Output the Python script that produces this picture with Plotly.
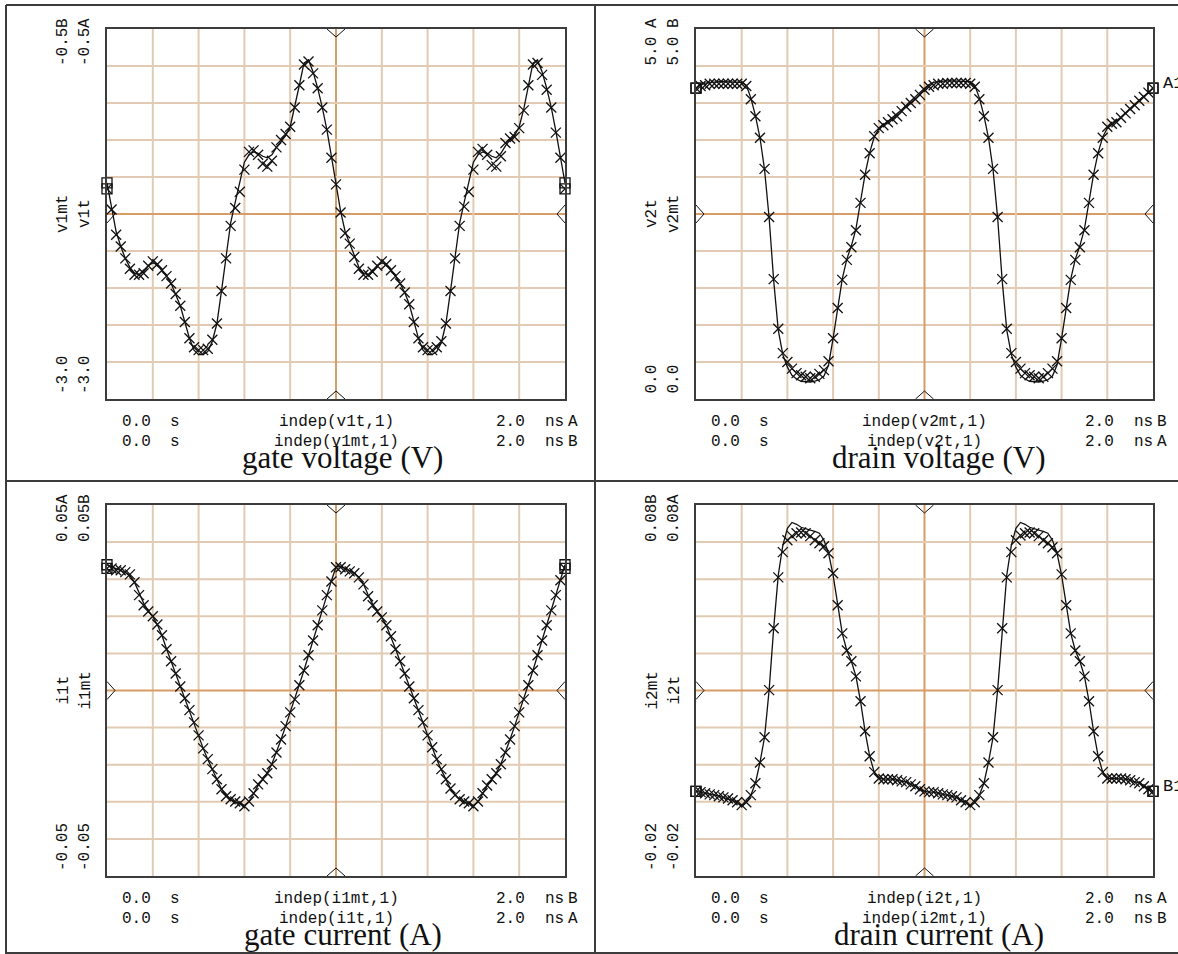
import plotly.graph_objects as go

W, H = 1178, 954

time_ns = [0.00, 0.02, 0.04, 0.06, 0.08, 0.10, 0.12, 0.14, 0.16, 0.18,
           0.20, 0.22, 0.24, 0.26, 0.28, 0.30, 0.32, 0.34, 0.36, 0.38,
           0.40, 0.42, 0.44, 0.46, 0.48, 0.50, 0.52, 0.54, 0.56, 0.58,
           0.60, 0.62, 0.64, 0.66, 0.68, 0.70, 0.72, 0.74, 0.76, 0.78,
           0.80, 0.82, 0.84, 0.86, 0.88, 0.90, 0.92, 0.94, 0.96, 0.98,
           1.00, 1.02, 1.04, 1.06, 1.08, 1.10, 1.12, 1.14, 1.16, 1.18,
           1.20, 1.22, 1.24, 1.26, 1.28, 1.30, 1.32, 1.34, 1.36, 1.38,
           1.40, 1.42, 1.44, 1.46, 1.48, 1.50, 1.52, 1.54, 1.56, 1.58,
           1.60, 1.62, 1.64, 1.66, 1.68, 1.70, 1.72, 1.74, 1.76, 1.78,
           1.80, 1.82, 1.84, 1.86, 1.88, 1.90, 1.92, 1.94, 1.96, 1.98,
           2.00]

# gate voltage (V)
v1t = [-1.58, -1.72, -1.89, -1.97, -2.05, -2.12, -2.16, -2.16, -2.15, -2.10,
       -2.07, -2.09, -2.13, -2.17, -2.22, -2.29, -2.37, -2.48, -2.59, -2.65,
       -2.67, -2.67, -2.66, -2.60, -2.49, -2.27, -2.05, -1.83, -1.71, -1.60,
       -1.45, -1.33, -1.32, -1.35, -1.41, -1.43, -1.39, -1.30, -1.25, -1.21,
       -1.16, -1.03, -0.88, -0.74, -0.72, -0.80, -0.90, -1.03, -1.18, -1.37,
       -1.55, -1.74, -1.88, -1.95, -2.04, -2.12, -2.16, -2.16, -2.14, -2.10,
       -2.07, -2.09, -2.13, -2.17, -2.22, -2.28, -2.36, -2.48, -2.59, -2.65,
       -2.67, -2.67, -2.65, -2.61, -2.49, -2.27, -2.05, -1.83, -1.70, -1.60,
       -1.45, -1.33, -1.31, -1.35, -1.42, -1.43, -1.36, -1.27, -1.24, -1.23,
       -1.17, -1.05, -0.88, -0.74, -0.73, -0.81, -0.91, -1.03, -1.20, -1.37,
       -1.58]
v1mt = [-1.54, -1.70, -1.87, -1.97, -2.05, -2.11, -2.15, -2.16, -2.14, -2.10,
        -2.08, -2.09, -2.13, -2.17, -2.22, -2.29, -2.37, -2.48, -2.59, -2.67,
        -2.70, -2.70, -2.68, -2.61, -2.49, -2.27, -2.04, -1.81, -1.67, -1.53,
        -1.40, -1.35, -1.33, -1.34, -1.36, -1.37, -1.35, -1.30, -1.26, -1.22,
        -1.16, -1.03, -0.88, -0.73, -0.71, -0.79, -0.90, -1.03, -1.18, -1.36,
        -1.55, -1.73, -1.87, -1.95, -2.04, -2.11, -2.15, -2.16, -2.14, -2.10,
        -2.08, -2.09, -2.13, -2.17, -2.22, -2.28, -2.36, -2.48, -2.59, -2.67,
        -2.70, -2.70, -2.68, -2.62, -2.49, -2.27, -2.04, -1.81, -1.67, -1.53,
        -1.40, -1.35, -1.33, -1.34, -1.36, -1.37, -1.34, -1.29, -1.25, -1.22,
        -1.16, -1.04, -0.88, -0.73, -0.71, -0.79, -0.90, -1.03, -1.19, -1.36,
        -1.54]

# drain voltage (V)
v2t = [4.20, 4.23, 4.24, 4.26, 4.26, 4.26, 4.26, 4.26, 4.26, 4.26,
       4.26, 4.23, 4.05, 3.82, 3.53, 3.11, 2.46, 1.62, 0.95, 0.62,
       0.50, 0.41, 0.35, 0.32, 0.30, 0.28, 0.30, 0.34, 0.39, 0.51,
       0.82, 1.23, 1.61, 1.88, 2.05, 2.28, 2.65, 3.03, 3.32, 3.55,
       3.66, 3.70, 3.74, 3.78, 3.82, 3.89, 3.95, 4.00, 4.05, 4.11,
       4.18, 4.22, 4.24, 4.26, 4.26, 4.27, 4.27, 4.27, 4.27, 4.27,
       4.26, 4.22, 4.05, 3.82, 3.53, 3.11, 2.46, 1.62, 0.95, 0.62,
       0.50, 0.41, 0.35, 0.32, 0.30, 0.28, 0.30, 0.35, 0.41, 0.51,
       0.82, 1.23, 1.61, 1.88, 2.05, 2.28, 2.65, 3.03, 3.32, 3.53,
       3.68, 3.72, 3.74, 3.80, 3.86, 3.92, 3.97, 4.03, 4.08, 4.14,
       4.20]
v2mt = [4.20, 4.25, 4.27, 4.28, 4.29, 4.29, 4.29, 4.29, 4.29, 4.29,
        4.28, 4.24, 4.07, 3.83, 3.53, 3.10, 2.45, 1.60, 0.93, 0.60,
        0.43, 0.32, 0.27, 0.24, 0.23, 0.23, 0.24, 0.26, 0.31, 0.46,
        0.82, 1.24, 1.62, 1.89, 2.07, 2.30, 2.66, 3.04, 3.33, 3.54,
        3.65, 3.70, 3.75, 3.80, 3.85, 3.91, 3.97, 4.03, 4.09, 4.14,
        4.20, 4.25, 4.28, 4.29, 4.30, 4.30, 4.30, 4.30, 4.30, 4.30,
        4.29, 4.24, 4.07, 3.83, 3.53, 3.10, 2.45, 1.60, 0.93, 0.60,
        0.43, 0.32, 0.27, 0.24, 0.23, 0.23, 0.24, 0.26, 0.31, 0.46,
        0.82, 1.24, 1.62, 1.89, 2.07, 2.30, 2.66, 3.04, 3.33, 3.54,
        3.66, 3.71, 3.75, 3.81, 3.87, 3.93, 3.98, 4.04, 4.09, 4.15,
        4.20]

# gate current (A)
i1t = [0.0329, 0.0329, 0.0324, 0.0324, 0.0319, 0.0313, 0.0292, 0.0257, 0.0230, 0.0213,
       0.0200, 0.0178, 0.0149, 0.0111, 0.0079, 0.0046, 0.0011, -0.0021, -0.0053, -0.0086,
       -0.0121, -0.0156, -0.0185, -0.0212, -0.0239, -0.0266, -0.0285, -0.0293, -0.0299, -0.0304,
       -0.0312, -0.0299, -0.0277, -0.0253, -0.0239, -0.0223, -0.0199, -0.0167, -0.0132, -0.0096,
       -0.0059, -0.0024, 0.0014, 0.0054, 0.0095, 0.0135, 0.0176, 0.0216, 0.0257, 0.0294,
       0.0332, 0.0332, 0.0327, 0.0321, 0.0316, 0.0305, 0.0286, 0.0254, 0.0230, 0.0213,
       0.0197, 0.0176, 0.0146, 0.0111, 0.0079, 0.0046, 0.0011, -0.0021, -0.0053, -0.0086,
       -0.0121, -0.0153, -0.0185, -0.0212, -0.0239, -0.0264, -0.0282, -0.0293, -0.0299, -0.0304,
       -0.0312, -0.0299, -0.0277, -0.0256, -0.0239, -0.0223, -0.0199, -0.0167, -0.0132, -0.0096,
       -0.0059, -0.0024, 0.0014, 0.0054, 0.0095, 0.0135, 0.0176, 0.0216, 0.0257, 0.0297,
       0.0329]
i1mt = [0.0339, 0.0333, 0.0327, 0.0323, 0.0318, 0.0310, 0.0292, 0.0262, 0.0235, 0.0215,
        0.0199, 0.0177, 0.0148, 0.0112, 0.0078, 0.0045, 0.0011, -0.0022, -0.0055, -0.0088,
        -0.0122, -0.0156, -0.0186, -0.0214, -0.0241, -0.0266, -0.0284, -0.0294, -0.0300, -0.0306,
        -0.0310, -0.0300, -0.0279, -0.0256, -0.0240, -0.0222, -0.0198, -0.0167, -0.0132, -0.0096,
        -0.0060, -0.0024, 0.0014, 0.0054, 0.0095, 0.0136, 0.0177, 0.0217, 0.0258, 0.0296,
        0.0333, 0.0334, 0.0329, 0.0323, 0.0316, 0.0305, 0.0287, 0.0258, 0.0233, 0.0214,
        0.0197, 0.0175, 0.0146, 0.0112, 0.0078, 0.0045, 0.0011, -0.0022, -0.0055, -0.0088,
        -0.0122, -0.0154, -0.0186, -0.0214, -0.0241, -0.0265, -0.0282, -0.0294, -0.0300, -0.0306,
        -0.0310, -0.0300, -0.0279, -0.0257, -0.0240, -0.0222, -0.0198, -0.0167, -0.0132, -0.0096,
        -0.0060, -0.0024, 0.0014, 0.0054, 0.0095, 0.0136, 0.0177, 0.0217, 0.0258, 0.0298,
        0.0339]

# drain current (A)
i2t = [0.0028, 0.0026, 0.0023, 0.0020, 0.0018, 0.0015, 0.0012, 0.0009, 0.0004, -0.0001,
       -0.0009, -0.0001, 0.0018, 0.0050, 0.0106, 0.0174, 0.0301, 0.0468, 0.0605, 0.0673,
       0.0705, 0.0716, 0.0724, 0.0726, 0.0724, 0.0716, 0.0705, 0.0697, 0.0689, 0.0670,
       0.0616, 0.0530, 0.0454, 0.0408, 0.0379, 0.0338, 0.0271, 0.0190, 0.0123, 0.0080,
       0.0063, 0.0061, 0.0061, 0.0061, 0.0058, 0.0055, 0.0053, 0.0047, 0.0042, 0.0034,
       0.0028, 0.0026, 0.0026, 0.0023, 0.0020, 0.0018, 0.0015, 0.0012, 0.0004, -0.0001,
       -0.0009, -0.0001, 0.0018, 0.0050, 0.0106, 0.0174, 0.0301, 0.0468, 0.0605, 0.0673,
       0.0705, 0.0718, 0.0724, 0.0726, 0.0724, 0.0716, 0.0705, 0.0697, 0.0686, 0.0670,
       0.0613, 0.0530, 0.0454, 0.0408, 0.0379, 0.0338, 0.0271, 0.0190, 0.0123, 0.0080,
       0.0063, 0.0063, 0.0063, 0.0063, 0.0061, 0.0058, 0.0053, 0.0050, 0.0042, 0.0034,
       0.0028]
i2mt = [0.0028, 0.0026, 0.0023, 0.0020, 0.0018, 0.0015, 0.0012, 0.0009, 0.0004, -0.0002,
        -0.0011, -0.0002, 0.0018, 0.0050, 0.0106, 0.0174, 0.0301, 0.0468, 0.0611, 0.0691,
        0.0737, 0.0753, 0.0748, 0.0740, 0.0735, 0.0732, 0.0729, 0.0724, 0.0705, 0.0670,
        0.0611, 0.0530, 0.0454, 0.0408, 0.0379, 0.0338, 0.0271, 0.0190, 0.0123, 0.0080,
        0.0063, 0.0061, 0.0061, 0.0061, 0.0058, 0.0055, 0.0053, 0.0047, 0.0042, 0.0034,
        0.0028, 0.0026, 0.0026, 0.0023, 0.0020, 0.0018, 0.0015, 0.0012, 0.0004, -0.0002,
        -0.0011, -0.0002, 0.0018, 0.0050, 0.0106, 0.0174, 0.0301, 0.0468, 0.0611, 0.0691,
        0.0737, 0.0753, 0.0748, 0.0740, 0.0735, 0.0732, 0.0729, 0.0724, 0.0705, 0.0670,
        0.0611, 0.0530, 0.0454, 0.0408, 0.0379, 0.0338, 0.0271, 0.0190, 0.0123, 0.0080,
        0.0063, 0.0063, 0.0063, 0.0063, 0.0061, 0.0058, 0.0053, 0.0050, 0.0042, 0.0034,
        0.0028]

MONO = "Liberation Mono, Courier New, monospace"
SERIF = "Liberation Serif, Times New Roman, serif"
GRID = "#E2CBB2"
CENTER = "#D89C66"
FRAME = "#3c3c3c"
INK = "#111111"


def pxx(x):
    return x / W


def pxy(y):
    return 1 - y / H


panels = [
    dict(n="", L=107, R=565, T=29, B=399, line=v1mt, mark=v1t, yr=(-3.0, -0.5),
         top=(("-0.5", "B"), ("-0.5", "A")), mid=("v1mt", "v1t"), bot=("-3.0", "-3.0"),
         rows=(("indep(v1t,1)", "A"), ("indep(v1mt,1)", "B")),
         title="gate voltage (V)", tc=342.5, mlabel=None),
    dict(n="2", L=696, R=1153, T=29, B=399, line=v2mt, mark=v2t, yr=(0.0, 5.0),
         top=(("5.0", "A"), ("5.0", "B")), mid=("v2t", "v2mt"), bot=("0.0", "0.0"),
         rows=(("indep(v2mt,1)", "B"), ("indep(v2t,1)", "A")),
         title="drain voltage (V)", tc=938.5, mlabel="A1"),
    dict(n="3", L=107, R=565, T=505, B=876, line=i1mt, mark=i1t, yr=(-0.05, 0.05),
         top=(("0.05", "A"), ("0.05", "B")), mid=("i1t", "i1mt"), bot=("-0.05", "-0.05"),
         rows=(("indep(i1mt,1)", "B"), ("indep(i1t,1)", "A")),
         title="gate current (A)", tc=342.5, mlabel=None),
    dict(n="4", L=696, R=1153, T=505, B=876, line=i2mt, mark=i2t, yr=(-0.02, 0.08),
         top=(("0.08", "B"), ("0.08", "A")), mid=("i2mt", "i2t"), bot=("-0.02", "-0.02"),
         rows=(("indep(i2t,1)", "A"), ("indep(i2mt,1)", "B")),
         title="drain current (A)", tc=938.5, mlabel="B1"),
]

fig = go.Figure()
shapes = []
annotations = []


def ann(x, y, text, size=16, family=MONO, xanchor="center", yanchor="middle", angle=0, color=INK):
    annotations.append(dict(
        x=pxx(x), y=pxy(y), xref="paper", yref="paper", text=text, showarrow=False,
        xanchor=xanchor, yanchor=yanchor, textangle=angle,
        font=dict(family=family, size=size, color=color), borderpad=0,
    ))


layout_axes = {}
for p in panels:
    n = p["n"]
    xa, ya = "x" + n, "y" + n
    lo, hi = p["yr"]
    layout_axes["xaxis" + n] = dict(
        domain=[pxx(p["L"]), pxx(p["R"])], range=[0, 2], anchor=ya,
        showticklabels=False, ticks="", showgrid=False, zeroline=False,
        showline=True, mirror=True, linecolor=FRAME, linewidth=1.5, fixedrange=True,
    )
    layout_axes["yaxis" + n] = dict(
        domain=[pxy(p["B"]), pxy(p["T"])], range=[lo, hi], anchor=xa,
        showticklabels=False, ticks="", showgrid=False, zeroline=False,
        showline=True, mirror=True, linecolor=FRAME, linewidth=1.5, fixedrange=True,
    )
    xd, yd = xa + " domain", ya + " domain"
    # 10 x 10 grid, centre lines darker
    for k in range(1, 10):
        f = k / 10
        col = CENTER if k == 5 else GRID
        shapes.append(dict(type="line", xref=xd, yref=yd, x0=f, x1=f, y0=0, y1=1,
                           line=dict(color=col, width=2), layer="below"))
        shapes.append(dict(type="line", xref=xd, yref=yd, x0=0, x1=1, y0=f, y1=f,
                           line=dict(color=col, width=2), layer="below"))
    # small V-shaped centre indicators on each edge
    wx = 9 / (p["R"] - p["L"])
    wy = 9 / (p["B"] - p["T"])
    dx = 8 / (p["R"] - p["L"])
    dy = 8 / (p["B"] - p["T"])
    tri = [
        f"M {0.5 - wx},1 L 0.5,{1 - dy} L {0.5 + wx},1",
        f"M {0.5 - wx},0 L 0.5,{dy} L {0.5 + wx},0",
        f"M 0,{0.5 - wy} L {dx},0.5 L 0,{0.5 + wy}",
        f"M 1,{0.5 - wy} L {1 - dx},0.5 L 1,{0.5 + wy}",
    ]
    for path in tri:
        shapes.append(dict(type="path", xref=xd, yref=yd, path=path,
                           line=dict(color=INK, width=1), layer="above"))

    fig.add_trace(go.Scatter(x=time_ns, y=p["line"], xaxis=xa, yaxis=ya, mode="lines",
                             line=dict(color=INK, width=1.3), showlegend=False, hoverinfo="skip"))
    fig.add_trace(go.Scatter(x=time_ns, y=p["mark"], xaxis=xa, yaxis=ya, mode="markers",
                             marker=dict(symbol="x-thin", size=10, color=INK,
                                         line=dict(color=INK, width=1.3)),
                             showlegend=False, hoverinfo="skip"))
    ends_x = [time_ns[0], time_ns[-1], time_ns[0], time_ns[-1]]
    ends_y = [p["line"][0], p["line"][-1], p["mark"][0], p["mark"][-1]]
    fig.add_trace(go.Scatter(x=ends_x, y=ends_y, xaxis=xa, yaxis=ya, mode="markers",
                             marker=dict(symbol="square-open", size=10, color=INK,
                                         line=dict(color=INK, width=1.3)),
                             cliponaxis=False, showlegend=False, hoverinfo="skip"))

    L, T, B = p["L"], p["T"], p["B"]
    C = (p["L"] + p["R"]) / 2
    cols = (L - 44, L - 22)
    for k in range(2):
        num, let = p["top"][k]
        ann(cols[k], T + 38, num, angle=-90, yanchor="bottom")
        ann(cols[k], T - 12, let, angle=-90, yanchor="top")
        ann(cols[k], (T + B) / 2, p["mid"][k], angle=-90)
        ann(cols[k], B - 4, p["bot"][k], angle=-90, yanchor="bottom")
    for r, (expr, tag) in enumerate(p["rows"]):
        yy = B + 23 + 20 * r
        ann(L + 14, yy, "0.0", xanchor="left")
        ann(L + 62, yy, "s", xanchor="left")
        ann(C, yy, expr)
        ann(L + 388, yy, "2.0", xanchor="left")
        ann(L + 437, yy, "ns", xanchor="left")
        ann(L + 460, yy, tag, xanchor="left")
    ann(p["tc"], B + 58, p["title"], size=31, family=SERIF)
    if p["mlabel"]:
        ann(p["R"] + 9, p["B"] - (p["mark"][-1] - lo) / (hi - lo) * (p["B"] - p["T"]) - 5,
            p["mlabel"], size=17, xanchor="left")

# cell frame lines
for (x0, y0, x1, y1) in [(6, 5, 1178, 5), (6, 5, 6, 954), (595, 5, 595, 954),
                         (6, 481, 1178, 481), (6, 953, 1178, 953)]:
    shapes.append(dict(type="line", xref="paper", yref="paper",
                       x0=pxx(x0), y0=pxy(y0), x1=pxx(x1), y1=pxy(y1),
                       line=dict(color=FRAME, width=2)))

fig.update_layout(
    width=W, height=H, margin=dict(l=0, r=0, t=0, b=0),
    paper_bgcolor="white", plot_bgcolor="white", showlegend=False,
    shapes=shapes, annotations=annotations, **layout_axes,
)

fig.write_html("out.html")
